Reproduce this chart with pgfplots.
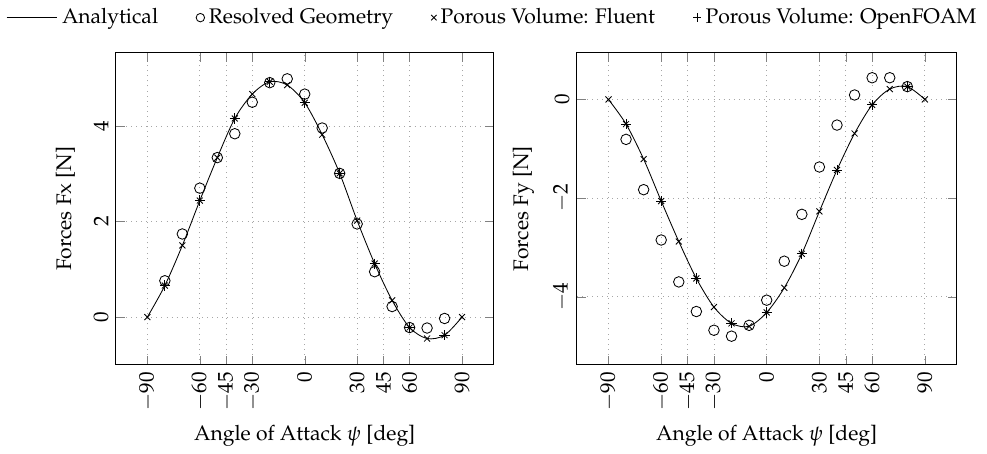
\documentclass[border=0pt]{standalone}
\usepackage[T1]{fontenc}
\usepackage{mathpazo}
\usepackage{pgfplots}
\pgfplotsset{compat=1.18}

\pgfplotsset{
  forceaxis/.style={
    width=179pt, height=148pt, scale only axis,
    xmin=-108, xmax=108,
    xtick={-90,-60,-45,-30,0,30,45,60,90},
    xticklabel style={rotate=90, anchor=east},
    yticklabel style={rotate=90, anchor=south},
    grid=major,
    grid style={dotted, gray!70},
    xlabel={Angle of Attack $\psi$ [deg]},
    ylabel shift=2pt,
  },
  analytical/.style={black, smooth, no marks, thin,
    legend image code/.code={\draw[##1] (0pt,0pt) -- (24pt,0pt);}},
  resolved/.style={black, only marks, mark=o, mark size=2.5pt,
    legend image code/.code={\draw[##1, mark size=2pt] plot coordinates {(0pt,0pt)};}},
  fluent/.style={black, only marks, mark=x, mark size=2pt,
    legend image code/.code={\draw[##1, mark size=1.8pt] plot coordinates {(0pt,0pt)};}},
  openfoam/.style={black, only marks, mark=+, mark size=2.4pt,
    legend image code/.code={\draw[##1, mark size=2pt] plot coordinates {(0pt,0pt)};}},
}

\begin{document}
\begin{tikzpicture}
% Fx
\begin{axis}[forceaxis,
  ymin=-1.0, ymax=5.54, ytick={0,2,4},
  ylabel={Forces Fx [N]},
  legend columns=4,
  legend style={at={(1.0,1.054)}, anchor=south, draw=none, fill=none,
    /tikz/every even column/.append style={column sep=16pt}},
]
\addplot[analytical] coordinates {
  (-90,0) (-80,0.66) (-70,1.50) (-60,2.44) (-50,3.34) (-40,4.16) (-30,4.67)
  (-20,4.93) (-10,4.86) (0,4.49) (10,3.82) (20,3.01) (30,2.02) (40,1.12)
  (50,0.35) (60,-0.22) (70,-0.45) (80,-0.38) (90,0)};
\addlegendentry{Analytical}
\addplot[resolved] coordinates {
  (-80,0.76) (-70,1.74) (-60,2.70) (-50,3.34) (-40,3.84) (-30,4.50) (-20,4.91)
  (-10,4.99) (0,4.67) (10,3.96) (20,3.01) (30,1.95) (40,0.95) (50,0.22)
  (60,-0.22) (70,-0.23) (80,-0.03)};
\addlegendentry{Resolved Geometry}
\addplot[fluent] coordinates {
  (-90,0) (-80,0.66) (-70,1.50) (-60,2.44) (-50,3.34) (-40,4.16) (-30,4.67)
  (-20,4.93) (-10,4.86) (0,4.49) (10,3.82) (20,3.01) (30,2.02) (40,1.12)
  (50,0.35) (60,-0.22) (70,-0.45) (80,-0.38) (90,0)};
\addlegendentry{Porous Volume: Fluent}
\addplot[openfoam] coordinates {
  (-80,0.66) (-60,2.44) (-40,4.16) (-20,4.93) (0,4.49) (20,3.01) (40,1.12)
  (60,-0.22) (80,-0.38)};
\addlegendentry{Porous Volume: OpenFOAM}
\end{axis}

% Fy
\begin{axis}[forceaxis, at={(218.5pt,0)}, width=180pt,
  ymin=-5.38, ymax=0.95, ytick={-4,-2,0},
  ylabel={Forces Fy [N]},
]
\addplot[analytical] coordinates {
  (-90,0) (-80,-0.50) (-70,-1.21) (-60,-2.06) (-50,-2.88) (-40,-3.63) (-30,-4.21)
  (-20,-4.54) (-10,-4.60) (0,-4.32) (10,-3.82) (20,-3.13) (30,-2.27) (40,-1.43)
  (50,-0.69) (60,-0.11) (70,0.21) (80,0.26) (90,0)};
\addplot[resolved] coordinates {
  (-80,-0.81) (-70,-1.83) (-60,-2.85) (-50,-3.70) (-40,-4.30) (-30,-4.68)
  (-20,-4.80) (-10,-4.58) (0,-4.07) (10,-3.28) (20,-2.33) (30,-1.37)
  (40,-0.52) (50,0.09) (60,0.44) (70,0.44) (80,0.26)};
\addplot[fluent] coordinates {
  (-90,0) (-80,-0.50) (-70,-1.21) (-60,-2.06) (-50,-2.88) (-40,-3.63) (-30,-4.21)
  (-20,-4.54) (-10,-4.60) (0,-4.32) (10,-3.82) (20,-3.13) (30,-2.27) (40,-1.43)
  (50,-0.69) (60,-0.11) (70,0.21) (80,0.26) (90,0)};
\addplot[openfoam] coordinates {
  (-80,-0.50) (-60,-2.06) (-40,-3.63) (-20,-4.54) (0,-4.32) (20,-3.13)
  (40,-1.43) (60,-0.11) (80,0.26)};
\end{axis}
\end{tikzpicture}
\end{document}
